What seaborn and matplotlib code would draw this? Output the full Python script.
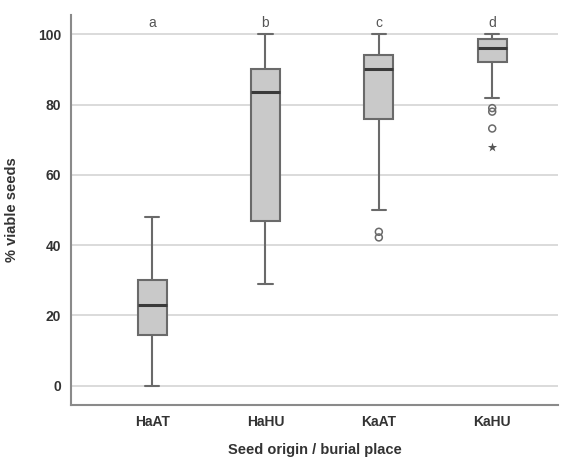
import pandas as pd
import matplotlib
matplotlib.use("Agg")
import matplotlib.pyplot as plt
import seaborn as sns

# =========================================================
# 데이터
# =========================================================
groups = ["HaAT", "HaHU", "KaAT", "KaHU"]
letters = ["a", "b", "c", "d"]

whisker_low = [0, 29, 50, 82]
q1 = [14.5, 47, 76, 92]
median = [23, 83.5, 90, 96]
q3 = [30, 90, 94, 98.8]
whisker_high = [48, 100, 100, 100]

# 이상치 (원) / 극단값 (별)
outlier_group = ["KaAT", "KaAT", "KaHU", "KaHU", "KaHU"]
outlier_value = [43.8, 42.2, 79.0, 78.0, 73.2]
extreme_group = ["KaHU"]
extreme_value = [68]

# =========================================================
# 스타일
# =========================================================
sns.set_style("white")
plt.rcParams["font.family"] = ["Liberation Sans", "DejaVu Sans"]

TEXT_COLOR = "#333333"
EDGE_COLOR = "#6a6a6a"
BOX_FILL = "#c9c9c9"
GRID_COLOR = "#d4d4d4"

box_df = pd.DataFrame({
    "group": [g for g in groups for _ in range(5)],
    "value": [v for i in range(len(groups))
              for v in (whisker_low[i], q1[i], median[i], q3[i], whisker_high[i])],
})
out_df = pd.DataFrame({"group": outlier_group, "value": outlier_value})
ext_df = pd.DataFrame({"group": extreme_group, "value": extreme_value})

fig = plt.figure(figsize=(5.61, 4.59), dpi=100)
ax = fig.add_axes([0.1266, 0.1176, 0.868, 0.8497])

ax.yaxis.grid(True, color=GRID_COLOR, linewidth=1.2)
ax.set_axisbelow(True)

sns.boxplot(
    data=box_df, x="group", y="value", order=groups,
    whis=(0, 100), width=0.255, color=BOX_FILL,
    showfliers=False, ax=ax,
    boxprops=dict(facecolor=BOX_FILL, edgecolor=EDGE_COLOR, linewidth=1.5),
    whiskerprops=dict(color=EDGE_COLOR, linewidth=1.5),
    capprops=dict(color=EDGE_COLOR, linewidth=1.5),
    medianprops=dict(color="#3a3a3a", linewidth=2.2),
)

sns.stripplot(
    data=out_df, x="group", y="value", order=groups, jitter=False,
    marker="o", size=5, color="none", edgecolor=EDGE_COLOR,
    linewidth=1.1, ax=ax,
)
sns.stripplot(
    data=ext_df, x="group", y="value", order=groups, jitter=False,
    marker="*", size=7, color="#555555", ax=ax,
)

# 유의성 문자
for i, lab in enumerate(letters):
    ax.text(i, 103.2, lab, ha="center", va="center", fontsize=10,
            color="#555555")

ax.set_xlim(-0.715, 3.58)
ax.set_ylim(-5.5, 105.5)
ax.set_yticks([0, 20, 40, 60, 80, 100])

for side in ["top", "right"]:
    ax.spines[side].set_visible(False)
for side in ["left", "bottom"]:
    ax.spines[side].set_color("#8a8a8a")
    ax.spines[side].set_linewidth(1.5)

ax.tick_params(length=0, pad=7, labelsize=10, colors=TEXT_COLOR)
for lab in ax.get_xticklabels() + ax.get_yticklabels():
    lab.set_fontweight("bold")

ax.set_xlabel("Seed origin / burial place", fontsize=10.5, fontweight="bold",
              color=TEXT_COLOR, labelpad=10)
ax.set_ylabel("% viable seeds", fontsize=10.5, fontweight="bold",
              color=TEXT_COLOR, labelpad=14)

fig.savefig("out.png", dpi=100)
